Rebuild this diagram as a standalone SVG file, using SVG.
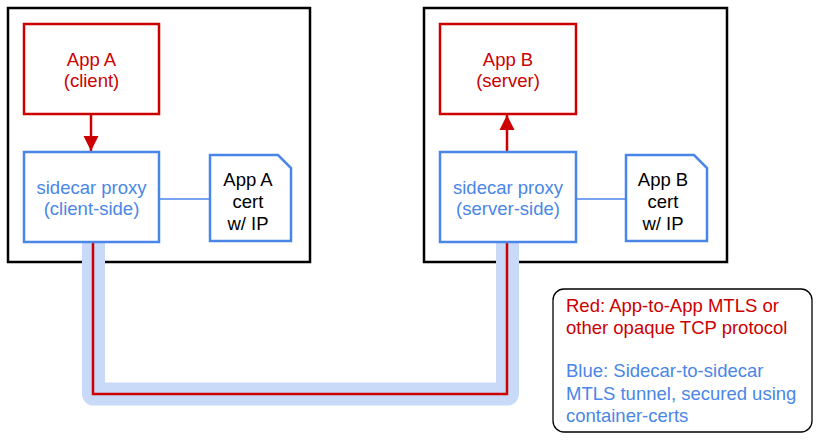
<svg xmlns="http://www.w3.org/2000/svg" width="817" height="440" viewBox="0 0 817 440">
<style>
text{font-family:"Liberation Sans",Arial,sans-serif;font-size:18.5px;text-anchor:middle}
.host{fill:#fff;stroke:#000;stroke-width:2.5}
.app{fill:#fff;stroke:#cc0000;stroke-width:2.5}
.side{fill:#fff;stroke:#4a86e8;stroke-width:2.5}
.red{fill:#cc0000}
.blue{fill:#4a86e8}
.blk{fill:#000}
.lg{text-anchor:start}
</style>
<defs>
<marker id="ah" viewBox="0 0 10 10" refX="10" refY="5" markerWidth="15" markerHeight="19" markerUnits="userSpaceOnUse" orient="auto">
<path d="M0,0 L10,5 L0,10 z" fill="#cc0000"/>
</marker>
</defs>
<rect width="817" height="440" fill="#fff"/>
<g id="hostA"><rect class="host" x="8" y="8" width="302" height="254"/></g>
<g id="hostB"><rect class="host" x="424" y="8" width="303" height="254"/></g>
<g id="connectors">
<path d="M93.5,243 V394 H507.5 V243" fill="none" stroke="#c9daf8" stroke-width="23" stroke-linejoin="round"/>
<path d="M93,243 V394 H507 V243" fill="none" stroke="#cc0000" stroke-width="2.5"/>
<line x1="91" y1="114" x2="91" y2="151" stroke="#cc0000" stroke-width="2.5" marker-end="url(#ah)"/>
<line x1="507" y1="152" x2="507" y2="115" stroke="#cc0000" stroke-width="2.5" marker-end="url(#ah)"/>
<line x1="159" y1="199" x2="210" y2="199" stroke="#4a86e8" stroke-width="1.5"/>
<line x1="576" y1="199" x2="626" y2="199" stroke="#4a86e8" stroke-width="1.5"/>
</g>
<g id="appA"><rect class="app" x="24" y="24" width="135" height="90"/>
<text class="red" x="91.5" y="66">App A</text><text class="red" x="91.5" y="87">(client)</text></g>
<g id="proxyA"><rect class="side" x="24" y="152" width="135" height="90"/>
<text class="blue" x="91.5" y="194">sidecar proxy</text><text class="blue" x="91.5" y="215">(client-side)</text></g>
<g id="certA"><path class="side" d="M210,155 H278 L291,168 V241 H210 Z"/>
<text class="blk" x="248" y="186">App A</text><text class="blk" x="248" y="208">cert</text><text class="blk" x="248" y="230">w/ IP</text></g>
<g id="appB"><rect class="app" x="440" y="24" width="136" height="90"/>
<text class="red" x="508" y="66">App B</text><text class="red" x="508" y="87">(server)</text></g>
<g id="proxyB"><rect class="side" x="440" y="152" width="136" height="90"/>
<text class="blue" x="508" y="194">sidecar proxy</text><text class="blue" x="508" y="215">(server-side)</text></g>
<g id="certB"><path class="side" d="M626,155 H694 L707,168 V241 H626 Z"/>
<text class="blk" x="663" y="186">App B</text><text class="blk" x="663" y="208">cert</text><text class="blk" x="663" y="230">w/ IP</text></g>
<g id="legend"><rect x="553" y="289" width="259" height="143" rx="11" fill="#fff" stroke="#000" stroke-width="1.3"/>
<text class="red lg" x="566" y="312">Red: App-to-App MTLS or</text>
<text class="red lg" x="566" y="334">other opaque TCP protocol</text>
<text class="blue lg" x="566" y="377">Blue: Sidecar-to-sidecar</text>
<text class="blue lg" x="566" y="400">MTLS tunnel, secured using</text>
<text class="blue lg" x="566" y="422">container-certs</text></g>
</svg>
